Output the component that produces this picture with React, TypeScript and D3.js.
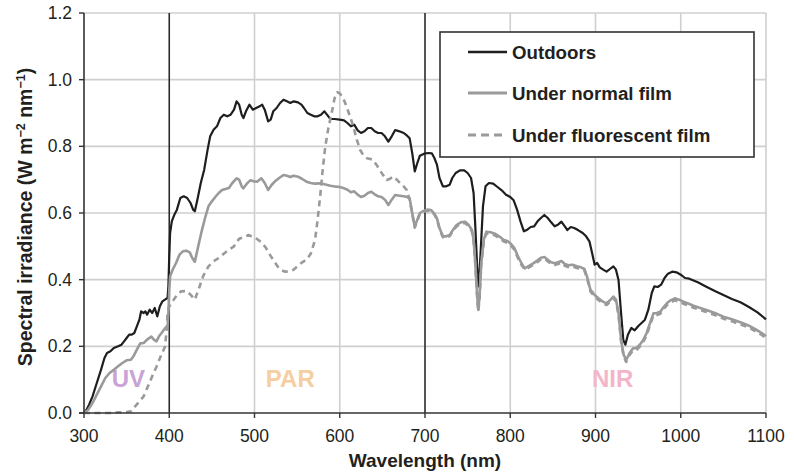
import React from "react";
import * as d3 from "d3";

type P = [number, number];

const outdoors: P[] = [[300,0],[303,0.01],[306,0.025],[310,0.05],[315,0.09],[320,0.13],[324,0.165],[327,0.18],[331,0.185],[335,0.195],[340,0.2],[344,0.205],[347,0.215],[350,0.225],[353,0.235],[356,0.235],[359,0.24],[362,0.26],[365,0.28],[367,0.305],[370,0.3],[372,0.305],[374,0.295],[377,0.31],[380,0.3],[383,0.315],[386,0.29],[389,0.32],[392,0.335],[395,0.34],[398,0.345],[399,0.38],[400,0.47],[401,0.54],[403,0.575],[406,0.595],[409,0.61],[413,0.645],[417,0.65],[421,0.645],[425,0.63],[428,0.61],[430,0.605],[433,0.64],[437,0.69],[441,0.73],[445,0.79],[448,0.83],[452,0.85],[456,0.86],[460,0.885],[464,0.895],[468,0.89],[472,0.895],[476,0.91],[479,0.935],[482,0.925],[485,0.895],[487,0.885],[490,0.905],[494,0.925],[498,0.91],[502,0.915],[506,0.92],[509,0.925],[512,0.91],[516,0.875],[519,0.88],[522,0.905],[526,0.915],[530,0.93],[534,0.94],[538,0.935],[542,0.93],[546,0.935],[551,0.932],[555,0.925],[558,0.915],[562,0.9],[566,0.895],[570,0.89],[574,0.89],[578,0.895],[582,0.905],[585,0.895],[589,0.882],[594,0.882],[600,0.88],[605,0.878],[609,0.87],[613,0.86],[617,0.865],[621,0.848],[625,0.84],[629,0.845],[633,0.855],[637,0.855],[641,0.845],[645,0.84],[649,0.84],[653,0.83],[657,0.814],[661,0.83],[665,0.849],[670,0.845],[675,0.84],[679,0.832],[682,0.824],[685,0.78],[688,0.725],[691,0.75],[694,0.772],[699,0.778],[704,0.78],[708,0.779],[711,0.765],[714,0.745],[717,0.705],[721,0.68],[725,0.68],[729,0.685],[732,0.705],[736,0.72],[741,0.728],[746,0.728],[750,0.72],[754,0.705],[757,0.66],[759,0.56],[761,0.45],[762.5,0.38],[764,0.42],[766,0.52],[768,0.62],[771,0.68],[775,0.69],[780,0.688],[785,0.678],[790,0.668],[795,0.655],[800,0.648],[804,0.638],[808,0.61],[812,0.575],[816,0.545],[820,0.55],[824,0.558],[828,0.56],[832,0.575],[836,0.585],[840,0.594],[844,0.585],[848,0.572],[852,0.56],[856,0.565],[860,0.574],[864,0.56],[867,0.549],[871,0.558],[875,0.555],[880,0.548],[885,0.54],[889,0.53],[893,0.514],[896,0.48],[899,0.445],[902,0.45],[905,0.437],[909,0.43],[913,0.424],[917,0.432],[921,0.44],[924,0.43],[927,0.399],[930,0.3],[932.6,0.219],[935,0.205],[938,0.235],[942,0.255],[946,0.248],[950,0.26],[954,0.27],[958,0.28],[962,0.31],[966,0.36],[969,0.38],[973,0.378],[977,0.385],[981,0.405],[985,0.418],[990,0.424],[995,0.422],[1000,0.415],[1005,0.405],[1010,0.403],[1020,0.392],[1030,0.379],[1040,0.366],[1050,0.354],[1060,0.342],[1070,0.332],[1080,0.318],[1090,0.302],[1100,0.281]];

const normalFilm: P[] = [[300,0],[305,0.01],[310,0.03],[315,0.055],[320,0.08],[325,0.105],[330,0.12],[335,0.13],[340,0.14],[345,0.15],[350,0.158],[355,0.16],[358,0.17],[362,0.19],[366,0.209],[370,0.21],[374,0.22],[379,0.229],[382,0.22],[385,0.215],[388,0.23],[391,0.24],[395,0.254],[398,0.26],[399,0.3],[400,0.37],[401,0.41],[404,0.43],[408,0.45],[412,0.475],[416,0.485],[420,0.487],[424,0.482],[427,0.465],[430,0.454],[434,0.5],[438,0.545],[442,0.585],[446,0.62],[450,0.635],[454,0.648],[458,0.66],[462,0.669],[466,0.672],[470,0.675],[474,0.69],[479,0.704],[482,0.7],[485,0.68],[487,0.674],[491,0.688],[495,0.698],[499,0.695],[503,0.694],[508,0.704],[512,0.69],[516,0.669],[520,0.684],[524,0.695],[529,0.705],[534,0.714],[538,0.712],[542,0.708],[546,0.712],[551,0.709],[556,0.702],[561,0.694],[566,0.69],[571,0.688],[577,0.689],[582,0.686],[589,0.682],[596,0.679],[600,0.678],[605,0.674],[609,0.67],[613,0.662],[617,0.665],[621,0.655],[625,0.648],[629,0.652],[633,0.66],[637,0.664],[641,0.656],[645,0.65],[649,0.648],[653,0.64],[657,0.624],[661,0.64],[665,0.654],[670,0.652],[675,0.65],[679,0.648],[682,0.644],[685,0.6],[688,0.559],[691,0.58],[694,0.6],[698,0.606],[703,0.61],[707,0.609],[711,0.598],[714,0.584],[717,0.555],[721,0.53],[725,0.53],[729,0.534],[733,0.55],[737,0.564],[742,0.572],[747,0.574],[751,0.565],[755,0.549],[757,0.52],[759,0.45],[761,0.36],[762.5,0.309],[764,0.35],[766,0.45],[769,0.52],[772,0.544],[777,0.542],[782,0.538],[787,0.53],[792,0.52],[797,0.515],[801,0.507],[805,0.494],[809,0.47],[813,0.45],[817,0.434],[821,0.44],[827,0.449],[832,0.458],[836,0.466],[840,0.468],[844,0.46],[848,0.452],[852,0.449],[856,0.452],[860,0.456],[864,0.447],[868,0.443],[873,0.445],[878,0.44],[883,0.437],[887,0.432],[890,0.41],[894,0.37],[899,0.354],[903,0.345],[908,0.335],[913,0.329],[917,0.338],[921,0.349],[924,0.34],[927,0.3],[930,0.22],[933,0.175],[936,0.159],[940,0.18],[944,0.194],[948,0.195],[952,0.205],[956,0.219],[960,0.24],[964,0.27],[968,0.299],[972,0.3],[976,0.304],[980,0.318],[984,0.33],[988,0.338],[993,0.344],[998,0.34],[1003,0.334],[1008,0.329],[1015,0.322],[1022,0.316],[1030,0.309],[1040,0.3],[1050,0.289],[1060,0.281],[1073,0.269],[1080,0.262],[1089,0.249],[1095,0.24],[1100,0.231]];

const fluorescentFilm: P[] = [[300,0],[310,0],[320,0],[330,0],[340,0.002],[350,0.003],[355,0.005],[360,0.02],[365,0.035],[370,0.05],[375,0.08],[380,0.11],[385,0.139],[390,0.17],[395,0.199],[397,0.25],[398,0.3],[400,0.32],[404,0.335],[409,0.354],[414,0.365],[420,0.366],[425,0.355],[430,0.34],[435,0.375],[440,0.412],[446,0.44],[452,0.455],[458,0.465],[464,0.478],[470,0.49],[476,0.5],[482,0.523],[488,0.528],[493,0.534],[498,0.528],[503,0.522],[508,0.512],[513,0.497],[518,0.475],[522,0.459],[527,0.44],[532,0.428],[536,0.424],[541,0.425],[546,0.43],[551,0.442],[556,0.452],[561,0.46],[566,0.478],[571,0.519],[574,0.58],[577,0.649],[580,0.73],[583,0.799],[587,0.86],[590.5,0.899],[594,0.945],[597,0.962],[600,0.959],[604,0.945],[608,0.919],[612,0.89],[616,0.859],[620,0.82],[624,0.789],[628,0.772],[632,0.764],[636,0.762],[639,0.759],[643,0.745],[647,0.729],[651,0.713],[655,0.699],[659,0.703],[663,0.709],[667,0.7],[671,0.689],[675,0.68],[678.5,0.669],[682,0.64],[685,0.597],[688,0.556],[691,0.577],[694,0.597],[698,0.603],[703,0.607],[707,0.606],[711,0.595],[714,0.581],[717,0.552],[721,0.527],[725,0.527],[729,0.531],[733,0.547],[737,0.56],[742,0.568],[747,0.57],[751,0.561],[755,0.545],[757,0.515],[759,0.445],[761,0.355],[762.5,0.305],[764,0.345],[766,0.445],[769,0.515],[772,0.539],[777,0.537],[782,0.533],[787,0.525],[792,0.515],[797,0.51],[801,0.502],[805,0.489],[809,0.465],[813,0.445],[817,0.43],[821,0.435],[827,0.444],[832,0.453],[836,0.461],[840,0.463],[844,0.455],[848,0.447],[852,0.444],[856,0.447],[860,0.451],[864,0.442],[868,0.438],[873,0.44],[878,0.435],[883,0.432],[887,0.427],[890,0.405],[894,0.365],[899,0.349],[903,0.34],[908,0.33],[913,0.324],[917,0.333],[921,0.344],[924,0.335],[927,0.295],[930,0.215],[933,0.17],[936,0.153],[940,0.174],[944,0.188],[948,0.189],[952,0.199],[956,0.213],[960,0.234],[964,0.264],[968,0.293],[972,0.294],[976,0.298],[980,0.312],[984,0.324],[988,0.332],[993,0.338],[998,0.334],[1003,0.328],[1008,0.323],[1015,0.316],[1022,0.31],[1030,0.303],[1040,0.294],[1050,0.283],[1060,0.275],[1073,0.263],[1080,0.256],[1089,0.243],[1095,0.234],[1100,0.225]];

const xTicks = [300, 400, 500, 600, 700, 800, 900, 1000, 1100];
const yTicks = [0, 0.2, 0.4, 0.6, 0.8, 1.0, 1.2];
const bandEdges = [400, 700];
const seriesNames = ["Outdoors", "Under normal film", "Under fluorescent film"];
const regionLabels = ["UV", "PAR", "NIR"];
const regionCenters = [352, 542, 920];

const FONT = "'Liberation Sans', Arial, Helvetica, sans-serif";
const TXT = "#231f20";

export default function App() {
  const x = d3.scaleLinear().domain([300, 1100]).range([84, 766]);
  const y = d3.scaleLinear().domain([0, 1.2]).range([413, 13]);
  const line = d3
    .line<P>()
    .x((d) => x(d[0]))
    .y((d) => y(d[1]));

  const styles = [
    { stroke: "#1e1e1e", width: 2.2, dash: undefined as string | undefined },
    { stroke: "#9a9a9a", width: 2.6, dash: undefined as string | undefined },
    { stroke: "#9a9a9a", width: 2.6, dash: "6,4.5" },
  ];
  const data = [outdoors, normalFilm, fluorescentFilm];
  const regionColors = ["#c9a3d6", "#f5cfa2", "#f3b5c9"];

  const legendX = 440, legendY = 32, legendW = 314, legendH = 125;
  const legendRows = [52, 93, 135];

  return (
    <svg
      width={794}
      height={474}
      style={{ position: "absolute", left: 0, top: 0, display: "block", background: "#fff" }}
      fontFamily={FONT}
    >
      {/* grid */}
      {yTicks.filter((t) => t > 0).map((t) => (
        <line key={"gy" + t} x1={x(300)} x2={x(1100)} y1={y(t)} y2={y(t)} stroke="#cfcfcf" strokeWidth={1.6} />
      ))}
      {xTicks.filter((t) => t > 300 && !bandEdges.includes(t)).map((t) => (
        <line key={"gx" + t} x1={x(t)} x2={x(t)} y1={y(0)} y2={y(1.2)} stroke="#cfcfcf" strokeWidth={1.6} />
      ))}
      {bandEdges.map((t) => (
        <line key={"be" + t} x1={x(t)} x2={x(t)} y1={y(0)} y2={y(1.2)} stroke="#2a2a2a" strokeWidth={1.6} />
      ))}

      {/* region labels */}
      {regionLabels.map((r, i) => (
        <text key={r} x={x(regionCenters[i])} y={387} textAnchor="middle" fontWeight="bold" fontSize={24} fill={regionColors[i]}>
          {r}
        </text>
      ))}

      {/* series */}
      {data.map((d, i) => (
        <path
          key={i}
          d={line(d) || ""}
          fill="none"
          stroke={styles[i].stroke}
          strokeWidth={styles[i].width}
          strokeDasharray={styles[i].dash}
          strokeLinejoin="round"
        />
      ))}

      {/* axes */}
      <line x1={x(300)} x2={x(300)} y1={y(0)} y2={y(1.2)} stroke="#333" strokeWidth={1.6} />
      <line x1={x(300) - 5} x2={x(1100)} y1={y(0)} y2={y(0)} stroke="#333" strokeWidth={1.6} />
      {yTicks.map((t) => (
        <g key={"yt" + t}>
          <line x1={x(300) - 5} x2={x(300)} y1={y(t)} y2={y(t)} stroke="#333" strokeWidth={1.4} />
          <text x={72} y={y(t) + 6} textAnchor="end" fontSize={17.5} fill={TXT}>
            {t.toFixed(1)}
          </text>
        </g>
      ))}
      {xTicks.map((t) => (
        <g key={"xt" + t}>
          <line x1={x(t)} x2={x(t)} y1={y(0)} y2={y(0) + 5} stroke="#333" strokeWidth={1.4} />
          <text x={x(t)} y={442} textAnchor="middle" fontSize={17.5} fill={TXT}>
            {t}
          </text>
        </g>
      ))}

      {/* axis titles */}
      <text x={425} y={467} textAnchor="middle" fontWeight="bold" fontSize={19} fill={TXT}>
        Wavelength (nm)
      </text>
      <text
        transform={`translate(32, 217) rotate(-90)`}
        textAnchor="middle"
        fontWeight="bold"
        fontSize={19.5}
        fill={TXT}
      >
        Spectral irradiance (W m
        <tspan dy={-7} fontSize={12.5}>−2</tspan>
        <tspan dy={7}> nm</tspan>
        <tspan dy={-7} fontSize={12.5}>−1</tspan>
        <tspan dy={7}>)</tspan>
      </text>

      {/* legend */}
      <rect x={legendX} y={legendY} width={legendW} height={legendH} fill="#fff" stroke="#333" strokeWidth={1.6} />
      {seriesNames.map((n, i) => (
        <g key={n}>
          <line
            x1={468}
            x2={507}
            y1={legendRows[i]}
            y2={legendRows[i]}
            stroke={styles[i].stroke}
            strokeWidth={styles[i].width + 0.4}
            strokeDasharray={i === 2 ? "8,5" : undefined}
          />
          <text x={512} y={legendRows[i] + 7} fontWeight="bold" fontSize={18.7} fill={TXT}>
            {n}
          </text>
        </g>
      ))}
    </svg>
  );
}
